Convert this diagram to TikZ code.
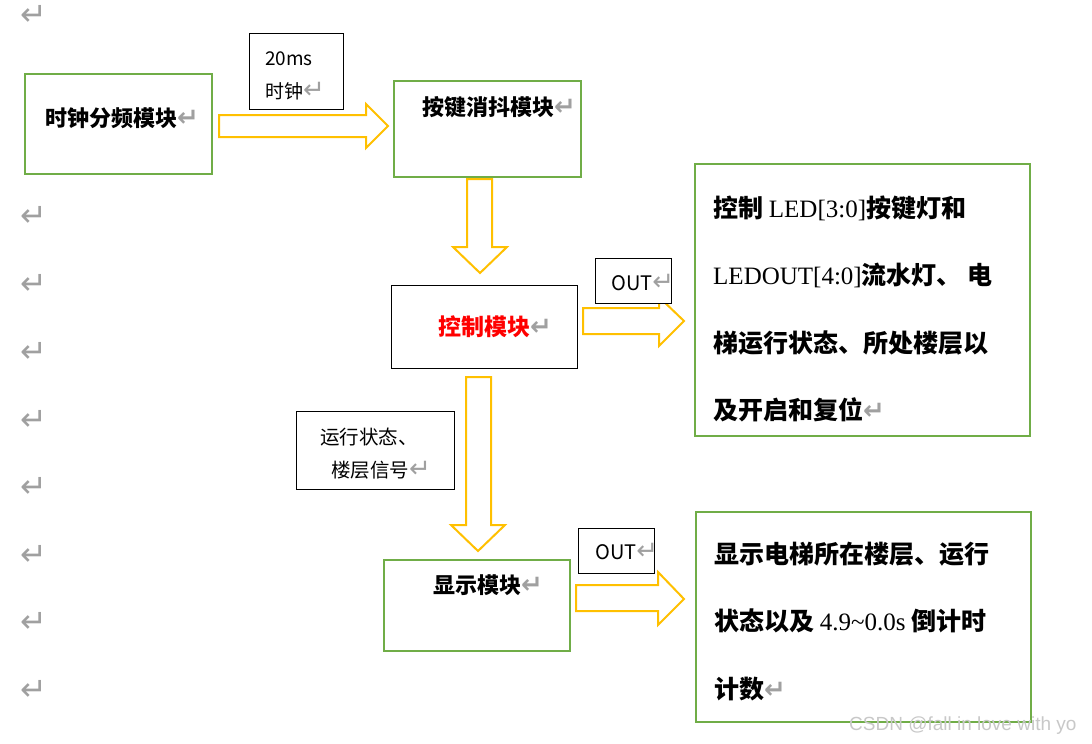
\documentclass[tikz,border=0pt]{standalone}
\usepackage{fontspec}
\setmainfont{Liberation Serif}
\newfontfamily\cjk{Noto Sans CJK SC}
\newfontfamily\dv{DejaVu Sans}
\newfontfamily\arl{Liberation Sans}
\definecolor{grn}{HTML}{70AD47}
\definecolor{ylw}{HTML}{FFC000}
\definecolor{mk}{HTML}{A0A0A0}
\definecolor{wm}{HTML}{C8C8C8}
\newcommand\pmk{{\dv\fontsize{26}{26}\selectfont\color{mk}↵}}
\tikzset{
  gbox/.style={draw=grn, line width=2pt, fill=white, inner sep=0pt},
  kbox/.style={draw=black, line width=1pt, fill=white, inner sep=0pt},
  blk/.style={draw=ylw, line width=2pt, fill=white, line join=miter},
  txt/.style={anchor=base west, inner sep=0pt},
  bt/.style={txt, font=\cjk\bfseries\fontsize{#1}{#1}\selectfont},
  mt/.style={txt, font=\cjk\fontsize{#1}{#1}\selectfont},
  margin/.style={inner sep=0pt, font=\dv\fontsize{32}{32}\selectfont, text=mk},
}
\begin{document}
\begin{tikzpicture}[x=1pt,y=-1pt]
\useasboundingbox (0,0) rectangle (1092,744);
\fill[white] (0,0) rectangle (1092,744);

% block arrows
\draw[blk] (219,115) -- (366,115) -- (366,104) -- (388,126) -- (366,148) -- (366,137) -- (219,137) -- cycle;
\draw[blk] (467,179) -- (492,179) -- (492,247) -- (507,247) -- (480,273) -- (453,247) -- (467,247) -- cycle;
\draw[blk] (583,308) -- (659,308) -- (659,297) -- (684,321) -- (659,346) -- (659,334) -- (583,334) -- cycle;
\draw[blk] (466,377) -- (491,377) -- (491,525) -- (505,525) -- (478,551) -- (451,525) -- (466,525) -- cycle;
\draw[blk] (576,585) -- (658,585) -- (658,572) -- (684,599) -- (658,625) -- (658,611) -- (576,611) -- cycle;

% boxes
\node[gbox, minimum width=187pt, minimum height=100pt] (clk) at (118.5,124) {};
\node[kbox, minimum width=94pt, minimum height=76pt] (ms) at (296,71) {};
\node[gbox, minimum width=187pt, minimum height=96pt] (key) at (487.5,129) {};
\node[kbox, minimum width=186pt, minimum height=83pt] (ctl) at (484,326.5) {};
\node[kbox, minimum width=76pt, minimum height=45pt] (out1) at (633,280.5) {};
\node[gbox, minimum width=335pt, minimum height=272pt] (big) at (862.5,300) {};
\node[kbox, minimum width=158pt, minimum height=78pt] (sig) at (375,450) {};
\node[gbox, minimum width=186pt, minimum height=91pt] (disp) at (477,605.5) {};
\node[kbox, minimum width=76pt, minimum height=45pt] (out2) at (616,550.5) {};
\node[gbox, minimum width=335pt, minimum height=210pt] (desc) at (863.5,617) {};

% texts
\node[bt=22] (tclk) at (45,126) {时钟分频模块\pmk};
\node[mt=19] (tms1) at (265,65) {20ms};
\node[mt=19] (tms2) at (265,98) {时钟\pmk};
\node[bt=22] (tkey) at (422,115) {按键消抖模块\pmk};
\node[bt=23, text=red] (tctl) at (438,335) {控制模块\pmk};
\node[mt=20] (tout1) at (611,290) {OUT\pmk};
\node[bt=25] (b1) at (713,217.5) {控制 {\rmfamily\mdseries LED[3:0]}按键灯和};
\node[bt=25] (b2) at (713,284.5) {{\rmfamily\mdseries LEDOUT[4:0]}流水灯、 电};
\node[bt=25] (b3) at (713,352.5) {梯运行状态、所处楼层以};
\node[bt=25] (b4) at (713,419.5) {及开启和复位\pmk};
\node[mt=19.5] (s1) at (320,444.5) {运行状态、};
\node[mt=19.5] (s2) at (331,477.5) {楼层信号\pmk};
\node[bt=22] (tdisp) at (433,593) {显示模块\pmk};
\node[mt=20] (tout2) at (595,559) {OUT\pmk};
\node[bt=25] (d1) at (714,563.5) {显示电梯所在楼层、运行};
\node[bt=25] (d2) at (714,630.5) {状态以及 {\rmfamily\mdseries 4.9\textasciitilde 0.0s} 倒计时};
\node[bt=25] (d3) at (714,698.5) {计数\pmk};

% margin paragraph marks
\node[margin] (m0) at (34,15) {↵};
\node[margin] (m1) at (34,216) {↵};
\node[margin] (m2) at (34,284) {↵};
\node[margin] (m3) at (34,352) {↵};
\node[margin] (m4) at (34,420) {↵};
\node[margin] (m5) at (34,487) {↵};
\node[margin] (m6) at (34,555) {↵};
\node[margin] (m7) at (34,622) {↵};
\node[margin] (m8) at (34,690) {↵};

% watermark
\node[txt, font=\arl\fontsize{19}{19}\selectfont, text=wm] (wmk) at (849,730) {CSDN @fall in love with yo};
\end{tikzpicture}
\end{document}
